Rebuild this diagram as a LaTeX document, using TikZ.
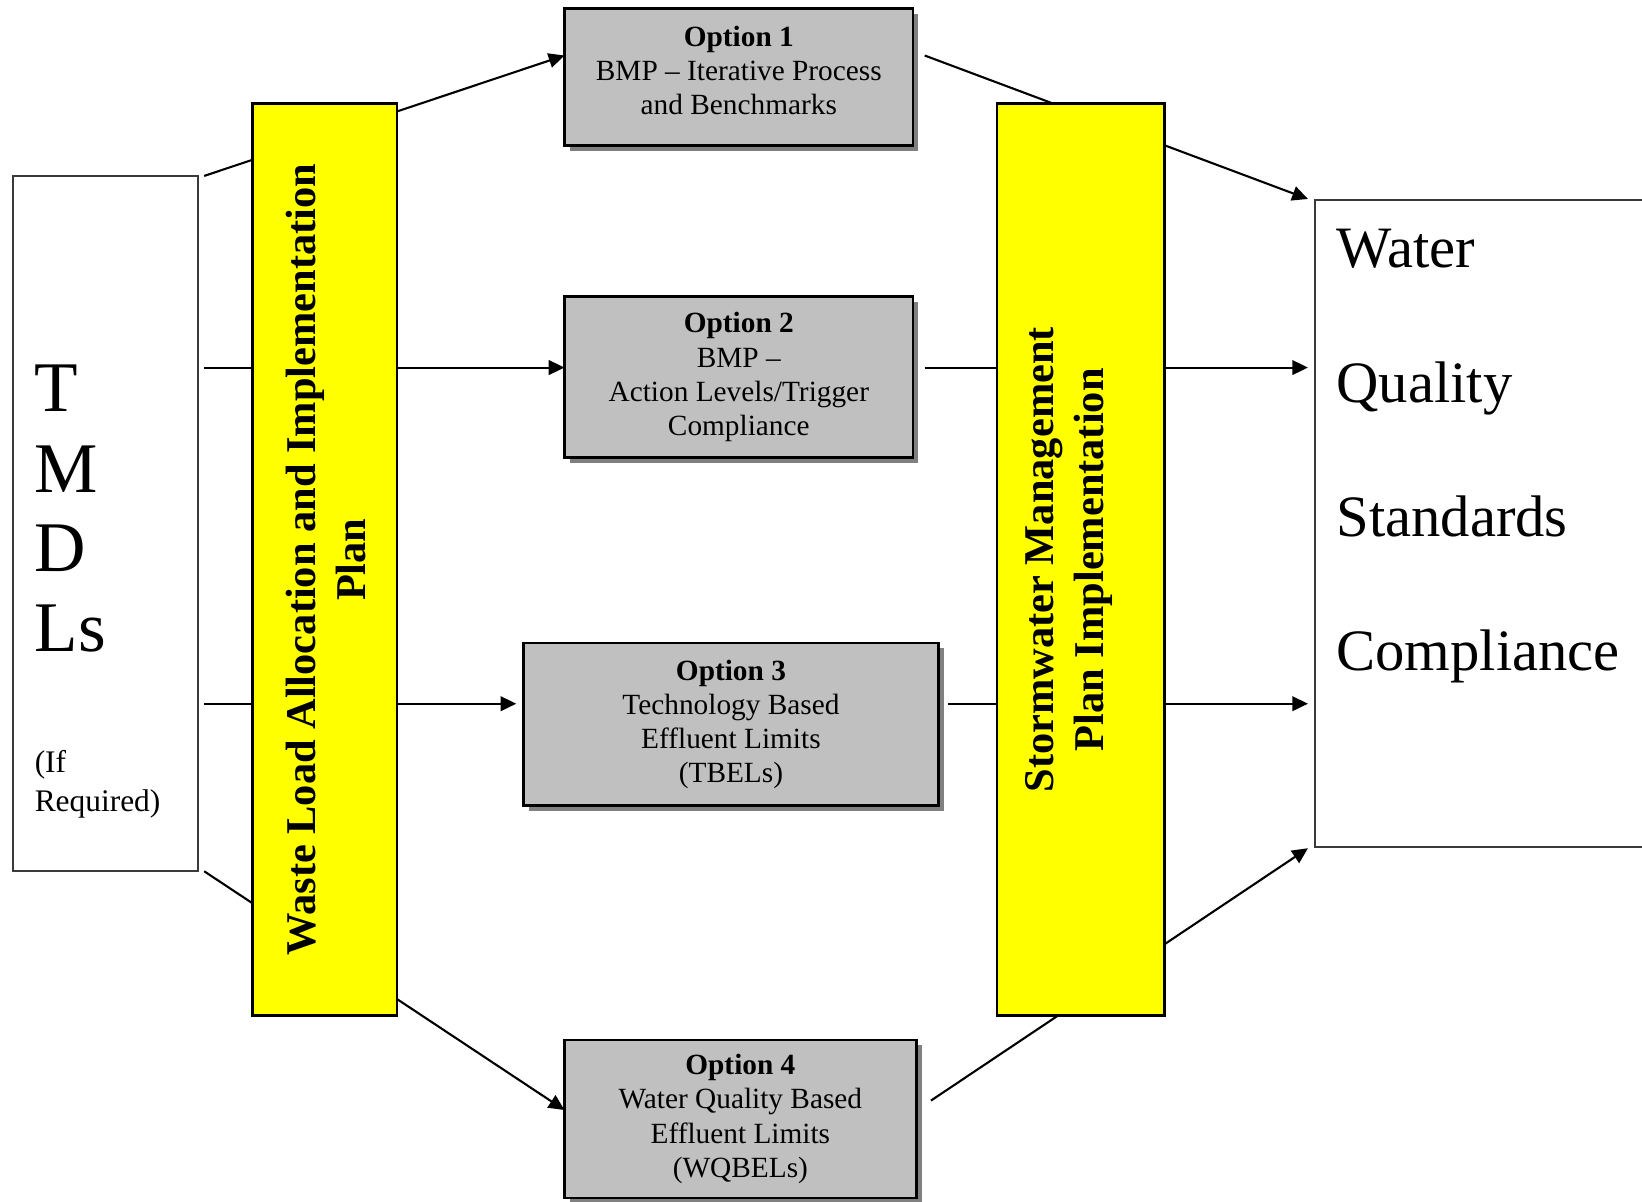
\documentclass[tikz,border=0pt]{standalone}
\usepackage{fontspec}
\setmainfont{Liberation Serif}
\usetikzlibrary{arrows.meta,shadows,backgrounds,calc}
\definecolor{optgray}{HTML}{C0C0C0}
\definecolor{shadowgray}{HTML}{808080}
\definecolor{boxborder}{HTML}{3A3A3A}
\definecolor{ybox}{HTML}{FFFF00}
\begin{document}
\begin{tikzpicture}[x=1pt,y=-1pt,
  plainbox/.style={draw=boxborder, line width=2pt, fill=white, inner sep=0pt, outer sep=0pt},
  yellowbox/.style={draw=black, line width=2.5pt, fill=ybox, inner sep=0pt, outer sep=0pt},
  optbox/.style={draw=black, line width=2.5pt, fill=optgray, inner sep=0pt, outer sep=0pt,
    align=center, font=\fontsize{28}{32.5}\selectfont,
    general shadow={fill=shadowgray, shadow xshift=5pt, shadow yshift=-5pt}},
  opttext/.style={inner sep=0pt, align=center, font=\fontsize{28}{32.5}\selectfont},
  ylabel/.style={rotate=90, inner sep=0pt, align=center, font=\bfseries\fontsize{40.5}{48}\selectfont},
  bigletter/.style={anchor=base west, inner sep=0pt, font=\fontsize{68}{76}\selectfont},
  smalltext/.style={anchor=base west, inner sep=0pt, font=\fontsize{30}{37}\selectfont},
  wqstext/.style={anchor=base west, inner sep=0pt, font=\fontsize{56}{64}\selectfont},
  conn/.style={line width=2pt, draw=black},
  arr/.style={conn, -{Triangle[length=15pt,width=14pt]}}
]
\useasboundingbox (0,0) rectangle (1568,1147);

% left TMDL box
\node[plainbox, minimum width=177, minimum height=664] (tmdl) at (100.5,500) {};
\node[bigletter] (tT) at (33,393) {T};
\node[bigletter] (tM) at (33,470) {M};
\node[bigletter] (tD) at (33,546) {D};
\node[bigletter] (tLs) at (33,622) {Ls};
\node[smalltext] (tIf) at (33,738) {(If};
\node[smalltext] (tReq) at (33,775) {Required)};

% right WQS box (cut off by the page edge)
\node[plainbox, minimum width=360, minimum height=618, anchor=north west] (wqs) at (1256,191) {};
\node[wqstext] (wWater) at (1276,255) {Water};
\node[wqstext] (wQuality) at (1276,384) {Quality};
\node[wqstext] (wStandards) at (1276,512) {Standards};
\node[wqstext] (wCompliance) at (1276,640) {Compliance};

% yellow bars
\node[yellowbox, minimum width=138, minimum height=871] (wla) at (310,534.5) {};
\node[ylabel] (wlat) at (311,534.5) {Waste Load Allocation and Implementation\\Plan};
\node[yellowbox, minimum width=160, minimum height=871] (smp) at (1032,534.5) {};
\node[ylabel] (smpt) at (1021,534.5) {Stormwater Management\\Plan Implementation};

% option boxes
\node[optbox, minimum width=333, minimum height=131] (opt1) at (705.5,73.5) {};
\node[opttext] (opt1t) at (705.5,67) {\textbf{Option 1}\\BMP – Iterative Process\\and Benchmarks};
\node[optbox, minimum width=333, minimum height=154] (opt2) at (705.5,360)
  {\textbf{Option 2}\\BMP –\\Action Levels/Trigger\\Compliance};
\node[optbox, minimum width=396, minimum height=155] (opt3) at (698,691.5)
  {\textbf{Option 3}\\Technology Based\\Effluent Limits\\(TBELs)};
\node[optbox, minimum width=336, minimum height=151] (opt4) at (707,1068.5)
  {\textbf{Option 4}\\Water Quality Based\\Effluent Limits\\(WQBELs)};

% connectors (behind the bars)
\begin{scope}[on background layer]
\draw[arr] ($(tmdl.north east)+(6,0)$) -- ($(opt1.west)+(0,-20.5)$);
\draw[arr] ($(tmdl.east)+(6,-149)$) -- ($(opt2.west)+(0,-9)$);
\draw[arr] ($(tmdl.east)+(6,172)$) -- ($(opt3.west)+(-7,-19.5)$);
\draw[arr] ($(tmdl.south east)+(6,0)$) -- ($(opt4.west)+(0,-8.5)$);
\draw[arr] ($(opt1.east)+(11,-20.5)$) -- ($(wqs.north west)+(-7,-1)$);
\draw[arr] ($(opt2.east)+(11,-9)$) -- ($(wqs.west)+(-7,-149)$);
\draw[arr] ($(opt3.east)+(9,-19.5)$) -- ($(wqs.west)+(-7,172)$);
\draw[arr] ($(opt4.east)+(14,-17.5)$) -- ($(wqs.south west)+(-7,1)$);
\end{scope}
\end{tikzpicture}
\end{document}
